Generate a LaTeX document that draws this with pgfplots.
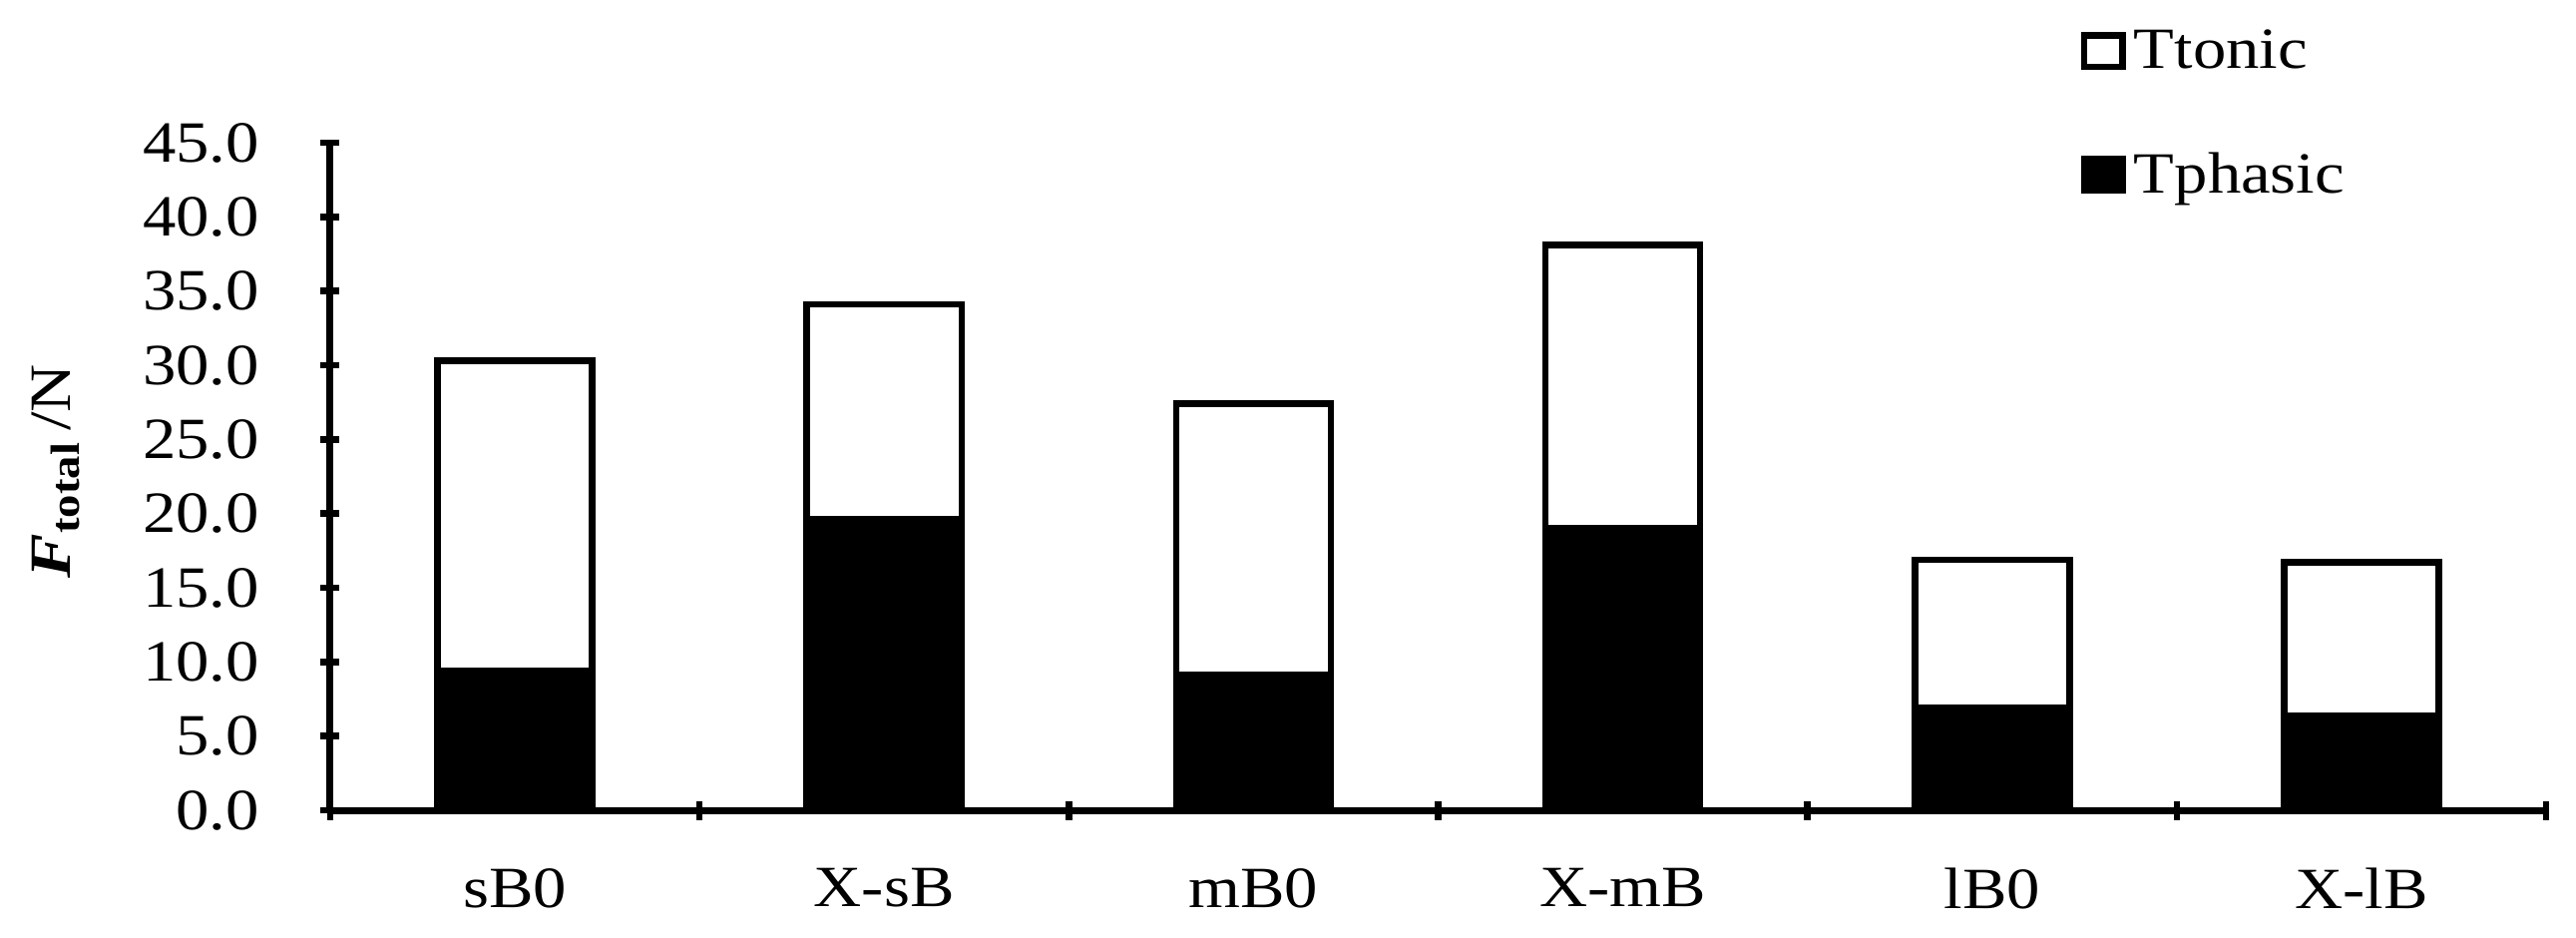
\documentclass[border=0pt]{standalone}
\usepackage{fontspec}
\setmainfont{Liberation Serif}[FakeStretch=1.14]
\usepackage{pgfplots}
\pgfplotsset{compat=1.18}
\begin{document}
\begin{tikzpicture}
\path[use as bounding box] (-66.2pt,-25.4pt) rectangle (450.2pt,162.4pt);
\begin{axis}[
  at={(0,0)}, anchor=south west,
  scale only axis, width=444.2pt, height=133.8pt,
  ymin=0, ymax=45, xmin=-0.5, xmax=5.5,
  enlargelimits=false, clip=false,
  axis lines=left,
  axis line style={-, line width=1.4pt},
  every tick/.style={black, line width=1.3pt},
  major tick length=3.8pt,
  ytick={0,5,...,45},
  yticklabel style={/pgf/number format/fixed, /pgf/number format/fixed zerofill,
    /pgf/number format/precision=1, xshift=-8.8pt},
  /pgf/number format/assume math mode=true,
  tick label style={font=\fontsize{11.7}{13}\selectfont},
  xtick={-0.5,0.5,...,5.5}, xticklabels={},
  extra x ticks={0,1,2,3,4,5},
  extra x tick labels={sB0,X-sB,mB0,X-mB,lB0,X-lB},
  extra x tick style={major tick length=0pt, tick style={draw=none}},
  xticklabel style={yshift=-8.1pt},
  ylabel={\textbf{\textit{F}}\textsubscript{\textbf{total}}\,/N},
  ylabel style={at={(axis description cs:-0.124,0.508)}, anchor=center, font=\fontsize{11.7}{13}\selectfont},
  ybar stacked, bar width=31pt,
  legend cell align=left,
  legend style={at={(axis description cs:0.7897,1.171)}, anchor=north west, draw=none, fill=none,
    font=\fontsize{11.7}{13}\selectfont, row sep=15.4pt, inner sep=0pt,
    nodes={inner sep=0pt},
    /tikz/every odd column/.append style={column sep=1.6pt}},
  legend image code/.code={\draw[#1, line width=1.3pt] (0.65pt,-2.85pt) rectangle (8.35pt,3.45pt);},
  reverse legend,
]
\addplot[draw=black, fill=black, line width=1.3pt] coordinates {
  (0,9.4) (1,19.6) (2,9.1) (3,19.0) (4,6.9) (5,6.4)};
\addlegendentry{Tphasic}
\addplot[draw=black, fill=white, line width=1.3pt] coordinates {
  (0,20.9) (1,14.5) (2,18.3) (3,19.1) (4,10.0) (5,10.3)};
\addlegendentry{Ttonic}
\end{axis}
\end{tikzpicture}
\end{document}
